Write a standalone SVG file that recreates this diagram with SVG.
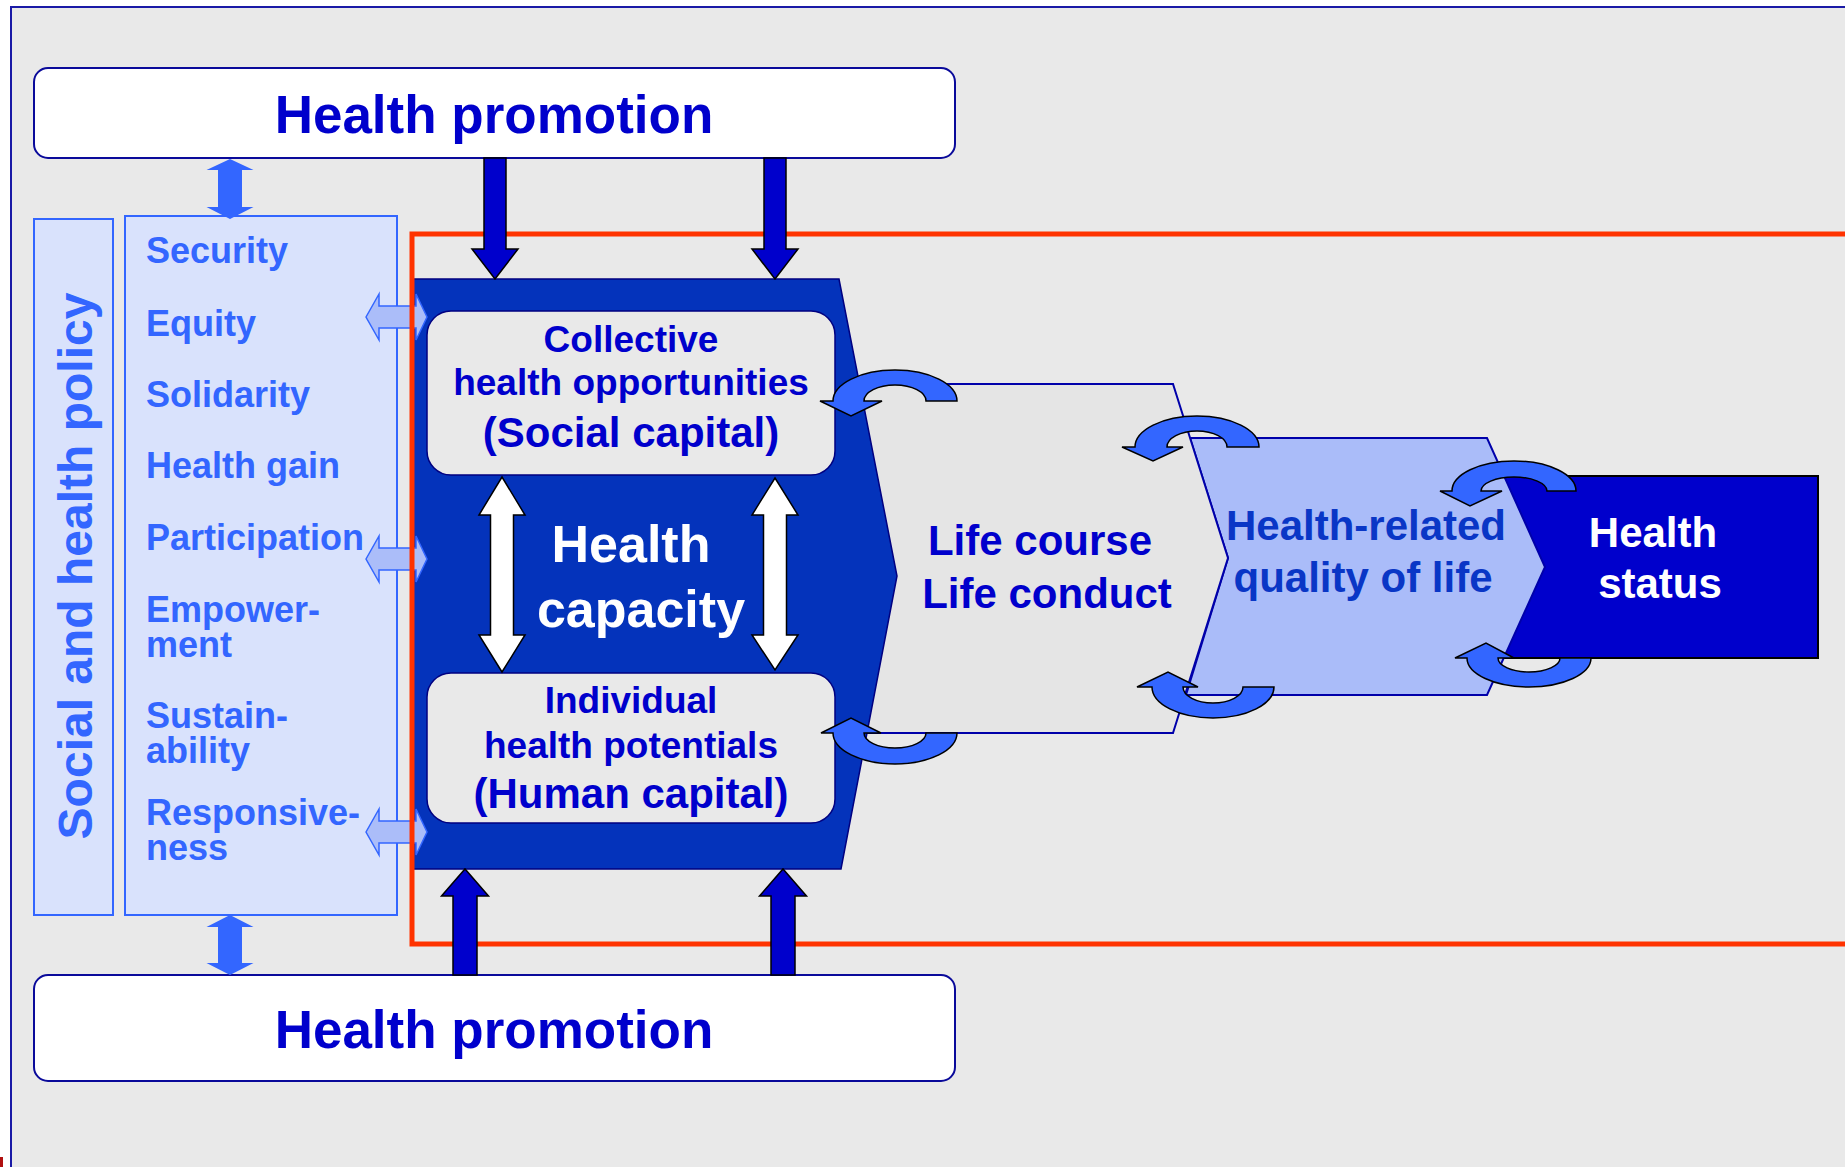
<svg xmlns="http://www.w3.org/2000/svg" width="1845" height="1167" viewBox="0 0 1845 1167">
  <style>
    text { font-family: "Liberation Sans", Arial, sans-serif; font-weight: bold; }
    .hp { font-size: 53px; fill: #0000cc; text-anchor: middle; }
    .val { font-size: 36px; fill: #3366ff; }
    .box { font-size: 37px; fill: #0000cc; text-anchor: middle; }
    .cap { font-size: 42px; fill: #0000cc; text-anchor: middle; }
    .big { font-size: 52px; fill: #ffffff; text-anchor: middle; }
    .mid { font-size: 42px; text-anchor: middle; }
    .col { fill: #d9e2fc; stroke: #3366ff; stroke-width: 2; }
    .hpbox { fill: #ffffff; stroke: #0a0a9a; stroke-width: 2; }
    .inner { fill: #e9e9e9; stroke: #000080; stroke-width: 1.5; }
    .thick { fill: #0000cc; stroke: #000000; stroke-width: 1.5; }
    .white { fill: #ffffff; stroke: #000000; stroke-width: 1.5; }
    .link { fill: #3366ff; }
    .side { fill: #abbdf9; stroke: #3366ff; stroke-width: 1.5; }
    .loop { fill: #3366ff; stroke: #000000; stroke-width: 1.5; }
  </style>

  <!-- page and frame -->
  <rect x="0" y="0" width="1845" height="1167" fill="#ffffff"/>
  <rect x="11" y="7" width="1840" height="1170" fill="#e9e9e9" stroke="#1a1aa6" stroke-width="2"/>
  <rect x="0" y="1157" width="3" height="10" fill="#b01010"/>

  <!-- health promotion boxes -->
  <g id="promotion-top">
    <rect class="hpbox" x="34" y="68" width="921" height="90" rx="14"/>
    <text class="hp" x="494" y="133">Health promotion</text>
  </g>
  <g id="promotion-bottom">
    <rect class="hpbox" x="34" y="975" width="921" height="106" rx="14"/>
    <text class="hp" x="494" y="1048">Health promotion</text>
  </g>

  <!-- policy columns -->
  <g id="policy">
    <rect class="col" x="34" y="219" width="79" height="696"/>
    <text transform="translate(92,566) rotate(-90)" style="font-size:48px;fill:#3366ff;text-anchor:middle">Social and health policy</text>
  </g>
  <g id="values">
    <rect class="col" x="125" y="216" width="272" height="699"/>
    <text class="val" x="146" y="263">Security</text>
    <text class="val" x="146" y="336">Equity</text>
    <text class="val" x="146" y="407">Solidarity</text>
    <text class="val" x="146" y="478">Health gain</text>
    <text class="val" x="146" y="550">Participation</text>
    <text class="val" x="146" y="622">Empower-</text>
    <text class="val" x="146" y="657">ment</text>
    <text class="val" x="146" y="728">Sustain-</text>
    <text class="val" x="146" y="763">ability</text>
    <text class="val" x="146" y="825">Responsive-</text>
    <text class="val" x="146" y="860">ness</text>
  </g>

  <!-- outcome chain -->
  <g id="health-status">
    <rect x="1505" y="476" width="313" height="182" fill="#0000cc" stroke="#000000" stroke-width="2"/>
    <text class="mid" x="1653" y="547" fill="#ffffff">Health</text>
    <text class="mid" x="1660" y="598" fill="#ffffff">status</text>
  </g>
  <g id="quality-of-life">
    <polygon points="1190,438 1487,438 1545,567 1487,695 1186,695 1228,558" fill="#aabcf9" stroke="#0000aa" stroke-width="2"/>
    <text class="mid" x="1366" y="540" fill="#0936c6">Health-related</text>
    <text class="mid" x="1363" y="592" fill="#0936c6">quality of life</text>
  </g>
  <g id="life-course">
    <polygon points="850,384 1173,384 1228,558 1173,733 850,733" fill="#e5e5e5" stroke="#0000aa" stroke-width="2"/>
    <text class="cap" x="1040" y="555">Life course</text>
    <text class="cap" x="1047" y="608">Life conduct</text>
  </g>

  <!-- health capacity -->
  <g id="health-capacity">
    <polygon points="412,279 839,279 897,576 841,869 412,869" fill="#0433bb" stroke="#000080" stroke-width="1.5"/>
    <text class="big" x="631" y="562">Health</text>
    <text class="big" x="641" y="627">capacity</text>
  </g>
  <g id="social-capital">
    <rect class="inner" x="427" y="311" width="408" height="164" rx="24"/>
    <text class="box" x="631" y="352">Collective</text>
    <text class="box" x="631" y="395">health opportunities</text>
    <text class="cap" x="631" y="447">(Social capital)</text>
  </g>
  <g id="human-capital">
    <rect class="inner" x="427" y="673" width="408" height="150" rx="24"/>
    <text class="box" x="631" y="713">Individual</text>
    <text class="box" x="631" y="758">health potentials</text>
    <text class="cap" x="631" y="808">(Human capital)</text>
  </g>

  <!-- connectors -->
  <g id="connectors">
    <!-- values to capacity -->
    <polygon class="side" points="366,317 379,294 379,306 416,306 416,294 427,317 416,340 416,328 379,328 379,340"/>
    <polygon class="side" points="366,559 379,536 379,548 416,548 416,536 427,559 416,582 416,570 379,570 379,582"/>
    <polygon class="side" points="366,832 379,809 379,821 416,821 416,809 427,832 416,855 416,843 379,843 379,855"/>

    <!-- health field boundary -->
    <rect x="412" y="234" width="1450" height="710" fill="none" stroke="#ff3300" stroke-width="5"/>

    <!-- policy to promotion -->
    <polygon class="link" points="230,159 253.5,170 242,170 242,207 253.5,207 230,219 206.5,207 218,207 218,170 206.5,170"/>
    <polygon class="link" points="230,915 253.5,927 242,927 242,963 253.5,963 230,975 206.5,963 218,963 218,927 206.5,927"/>

    <!-- promotion into capacity -->
    <polygon class="thick" points="484,158 506,158 506,249 518,249 495,279 472,249 484,249"/>
    <polygon class="thick" points="764,158 786,158 786,249 798,249 775,279 752,249 764,249"/>
    <polygon class="thick" points="453,975 453,896 441.5,896 465,869 488.5,896 477,896 477,975"/>
    <polygon class="thick" points="771,975 771,896 759.5,896 783,869 806.5,896 795,896 795,975"/>

    <!-- capacity exchange -->
    <polygon class="white" points="502,477 525,515 513.5,515 513.5,635 525,635 502,672 479,635 490.5,635 490.5,515 479,515"/>
    <polygon class="white" points="775,478 798,515 786.5,515 786.5,635 798,635 775,670 752,635 763.5,635 763.5,515 752,515"/>

    <!-- feedback loops -->
    <path class="loop" d="M957,401 A62,31 0 0 0 833,401 L820,401 L851,416 L882,401 L864,401 A31,16 0 0 1 926,401 Z"/>
    <path class="loop" d="M957,733 A62,31 0 0 1 833,733 L821,733 L851,718 L881,733 L864,733 A31,15 0 0 0 926,733 Z"/>
    <path class="loop" d="M1259,447 A62,31 0 0 0 1135,447 L1122,447 L1153,461 L1183,447 L1167,447 A30,16 0 0 1 1227,447 Z"/>
    <path class="loop" d="M1274,687 A61,31 0 0 1 1152,687 L1137,687 L1168,672 L1198,687 L1183,687 A30,16 0 0 0 1243,687 Z"/>
    <path class="loop" d="M1576,491 A62,30 0 0 0 1452,491 L1440,491 L1470,506 L1502,491 L1481,491 A33,14 0 0 1 1547,491 Z"/>
    <path class="loop" d="M1591,658 A62,29 0 0 1 1467,658 L1455,658 L1486,643 L1514,658 L1498,658 A31,14 0 0 0 1560,658 Z"/>
  </g>
</svg>
